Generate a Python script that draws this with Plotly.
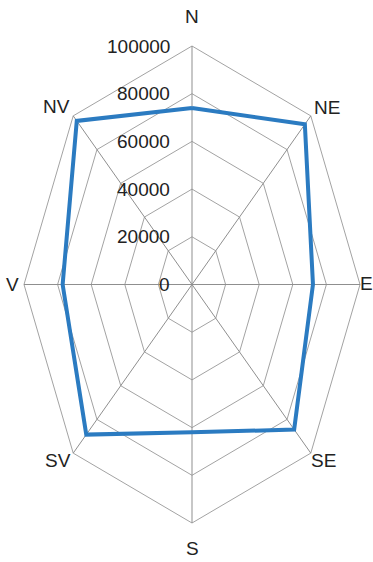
import numpy as np
import plotly.graph_objects as go

# Wind direction sectors (Romanian labels) and their values
directions = ["N", "NE", "E", "SE", "S", "SV", "V", "NV"]
values = [74000, 95000, 72000, 86000, 62000, 89000, 77000, 97000]
tick_values = [0, 20000, 40000, 60000, 80000, 100000]
tick_labels = ["0", "20000", "40000", "60000", "80000", "100000"]

# Layout geometry (pixels)
W, H = 373, 562
CX, CY = 192, 284.5          # chart centre
SX, SY = 168, 238.5          # pixels per 100000 horizontally / vertically
R_MAX = 100000

FONT = "Liberation Sans Narrow, Liberation Sans, Arial, sans-serif"
FONT_SIZE = 19
TEXT_COLOR = "#222222"
GRID_COLOR = "#a3a3a3"
LINE_COLOR = "#2b7bc1"

angles = np.deg2rad(np.arange(len(directions)) * 360 / len(directions))


def to_xy(r, ang):
    return r * np.sin(ang), r * np.cos(ang)


fig = go.Figure()

# octagonal grid rings
for tv in tick_values[1:]:
    gx, gy = to_xy(tv, np.append(angles, angles[0]))
    fig.add_trace(go.Scatter(x=gx, y=gy, mode="lines",
                             line=dict(color=GRID_COLOR, width=1),
                             hoverinfo="skip"))

# spokes
for a in angles:
    sx, sy = to_xy(np.array([0, R_MAX]), a)
    fig.add_trace(go.Scatter(x=sx, y=sy, mode="lines",
                             line=dict(color="#8f8f8f", width=1),
                             hoverinfo="skip"))

# data series
vals = np.array(values, dtype=float)
dx, dy = to_xy(np.append(vals, vals[0]), np.append(angles, angles[0]))
fig.add_trace(go.Scatter(x=dx, y=dy, mode="lines",
                         line=dict(color=LINE_COLOR, width=4),
                         name="Vânt"))

annotations = []
# radial tick labels along the N spoke
for tv, tl in zip(tick_values, tick_labels):
    annotations.append(dict(x=0, y=tv, text=tl, showarrow=False,
                            xanchor="right", yanchor="middle", xshift=-20,
                            font=dict(family=FONT, size=FONT_SIZE, color=TEXT_COLOR)))

# direction labels, offset in pixels from the outer vertex
label_offsets = [(0, 30), (16, 8), (6.5, 1), (13, -7.5),
                 (0, -25), (-15, -7), (-12, 0), (-16.5, 9)]
for d, a, (ox, oy) in zip(directions, angles, label_offsets):
    vx, vy = to_xy(R_MAX, a)
    annotations.append(dict(x=vx, y=vy, text=d, showarrow=False,
                            xanchor="center", yanchor="middle",
                            xshift=ox, yshift=oy,
                            font=dict(family=FONT, size=FONT_SIZE, color=TEXT_COLOR)))

x_range = [-CX / SX * R_MAX, (W - CX) / SX * R_MAX]
y_range = [-(H - CY) / SY * R_MAX, CY / SY * R_MAX]

fig.update_layout(
    width=W, height=H,
    margin=dict(l=0, r=0, t=0, b=0),
    paper_bgcolor="white", plot_bgcolor="white",
    showlegend=False,
    xaxis=dict(range=x_range, visible=False, fixedrange=True),
    yaxis=dict(range=y_range, visible=False, fixedrange=True),
    annotations=annotations,
)

fig.write_html("out.html")
